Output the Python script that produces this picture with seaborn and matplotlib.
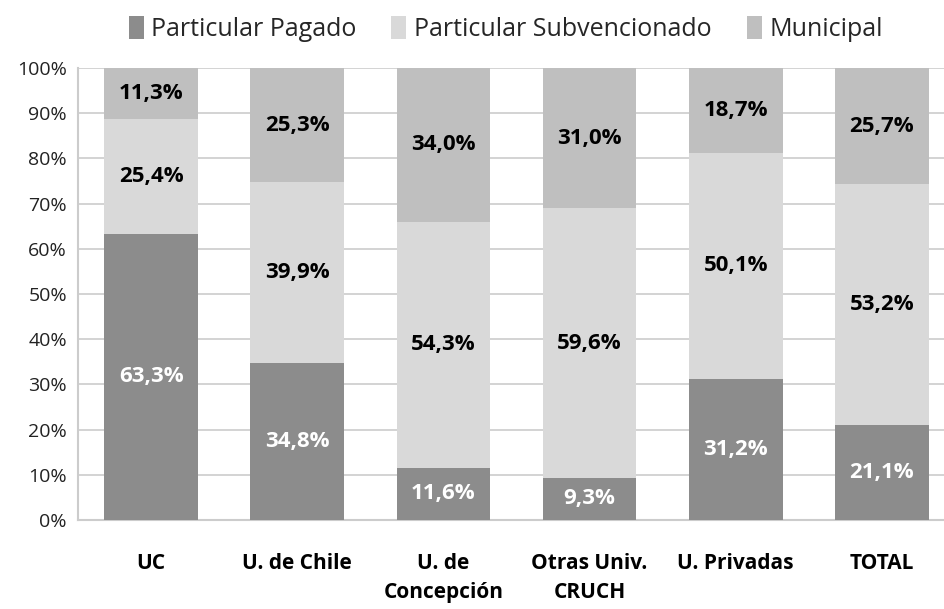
import pandas as pd
import seaborn as sns
import matplotlib.pyplot as plt
from matplotlib.patches import Patch

# data
categories = ['UC', 'U. de Chile', 'U. de\nConcepción', 'Otras Univ.\nCRUCH', 'U. Privadas', 'TOTAL']
pagado = [63.3, 34.8, 11.6, 9.3, 31.2, 21.1]
subvencionado = [25.4, 39.9, 54.3, 59.6, 50.1, 53.2]
municipal = [11.3, 25.3, 34.0, 31.0, 18.7, 25.7]

series_names = ['Particular Pagado', 'Particular Subvencionado', 'Municipal']
colors = ['#8c8c8c', '#d9d9d9', '#bfbfbf']
label_colors = ['white', 'black', 'black']

sns.set_style('white')
plt.rcParams['font.family'] = ['Open Sans', 'DejaVu Sans']

df = pd.DataFrame({'cat': categories, series_names[0]: pagado,
                   series_names[1]: subvencionado, series_names[2]: municipal})
totals = df[series_names].sum(axis=1)

fig = plt.figure(figsize=(9.45, 6.09), dpi=100)
ax = fig.add_axes([78 / 945, 89 / 609, 877 / 945, 452 / 609])

bottom = pd.Series([0.0] * len(df))
for name, col, lc in zip(series_names, colors, label_colors):
    share = df[name] / totals * 100  # 100% stacked
    sns.barplot(x=df['cat'], y=share, bottom=bottom, color=col, width=0.64,
                ax=ax, zorder=3, saturation=1, edgecolor='none', linewidth=0)
    for i, (v, s, b) in enumerate(zip(df[name], share, bottom)):
        ax.text(i, b + s / 2, f'{v:.1f}%'.replace('.', ','), ha='center', va='center',
                fontsize=16, fontweight='bold', color=lc, zorder=4)
    bottom = bottom + share

ax.set_ylim(0, 100)
ax.set_xlim(-0.5, 5.5)
ax.set_yticks(range(0, 101, 10))
ax.set_yticklabels([f'{t}%' for t in range(0, 101, 10)], fontsize=14, color='#222222')
ax.set_xticks(range(len(categories)))
ax.set_xticklabels(categories, fontsize=15, fontweight='bold', color='black', linespacing=1.45)
ax.tick_params(axis='x', length=0, pad=24)
ax.tick_params(axis='y', length=0, pad=8)
ax.set_xlabel('')
ax.set_ylabel('')
ax.yaxis.grid(True, color='#d0d0d0', linewidth=1.3, zorder=0)
for side in ['top', 'right']:
    ax.spines[side].set_visible(False)
for side in ['left', 'bottom']:
    ax.spines[side].set_color('#cccccc')
    ax.spines[side].set_linewidth(1.5)

handles = [Patch(facecolor=c, edgecolor='none') for c in colors]
fig.legend(handles, series_names, loc='upper center', bbox_to_anchor=(0.535, 1.01), ncol=3,
           frameon=False, fontsize=18, handlelength=0.6, handleheight=1.0,
           handletextpad=0.3, columnspacing=1.4)

fig.savefig('out.png', dpi=100)
